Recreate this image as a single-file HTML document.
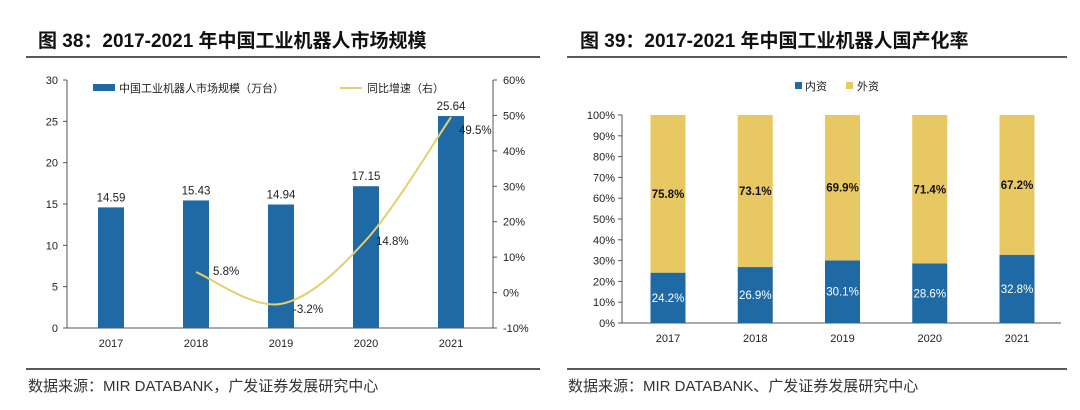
<!DOCTYPE html>
<html><head><meta charset="utf-8"><style>
body{margin:0;background:#fff;width:1080px;height:405px;overflow:hidden;font-family:"Liberation Sans","Noto Sans CJK SC",sans-serif}
svg text{font-family:"Liberation Sans","Noto Sans CJK SC",sans-serif}
</style></head><body>
<svg id="s" width="1080" height="405" xmlns="http://www.w3.org/2000/svg">
<text x="38" y="47" font-size="19" font-weight="bold" fill="#111">图 38：2017-2021 年中国工业机器人市场规模</text>
<line x1="26" y1="57" x2="540" y2="57" stroke="#222" stroke-width="1.5"/>
<line x1="26" y1="369" x2="540" y2="369" stroke="#222" stroke-width="1.5"/>
<text x="28" y="391" font-size="15" fill="#333">数据来源：MIR DATABANK，广发证券发展研究中心</text>
<text x="580" y="47" font-size="19" font-weight="bold" fill="#111">图 39：2017-2021 年中国工业机器人国产化率</text>
<line x1="567" y1="57" x2="1067" y2="57" stroke="#222" stroke-width="1.5"/>
<line x1="567" y1="369" x2="1067" y2="369" stroke="#222" stroke-width="1.5"/>
<text x="568" y="391" font-size="15" fill="#333">数据来源：MIR DATABANK、广发证券发展研究中心</text>
<g id="L"></g><g id="R"></g>
</svg>
<script>
const years=["2017","2018","2019","2020","2021"];
const marketSize=[14.59,15.43,14.94,17.15,25.64];
const growthYears=["2018","2019","2020","2021"];
const growth=[5.8,-3.2,14.8,49.5];
const leftTicks=[0,5,10,15,20,25,30];
const rightTicks=[-10,0,10,20,30,40,50,60];
const domestic=[24.2,26.9,30.1,28.6,32.8];
const foreign=[75.8,73.1,69.9,71.4,67.2];
const pctTicks=[0,10,20,30,40,50,60,70,80,90,100];
const NS="http://www.w3.org/2000/svg";
function mk(p,t,a,txt){const e=document.createElementNS(NS,t);for(const k in a)e.setAttribute(k,a[k]);if(txt!==undefined)e.textContent=txt;p.appendChild(e);return e;}
const blue="#1f6aa5",gold="#e8c862";
const L=document.getElementById('L');
const x0=67,x1=493,yT=80,yB=328;
const yL=v=>yB-(v/30)*(yB-yT);
const yRg=v=>yB-((v+10)/70)*(yB-yT);
const xc=i=>111+i*85;
let e=mk(L,'line',{x1:x0,y1:yT,x2:x0,y2:yB,stroke:'#555'});

e=mk(L,'line',{x1:x1,y1:yT,x2:x1,y2:yB,stroke:'#555'});

e=mk(L,'line',{x1:x0,y1:yB,x2:x1,y2:yB,stroke:'#555'});

leftTicks.forEach(v=>{mk(L,'line',{x1:x0-4,y1:yL(v),x2:x0,y2:yL(v),stroke:'#555'});
 e=mk(L,'text',{x:x0-9,y:yL(v)+4,'font-size':11,'text-anchor':'end',fill:'#222'},v);
 });
rightTicks.forEach(v=>{mk(L,'line',{x1:x1,y1:yRg(v),x2:x1+4,y2:yRg(v),stroke:'#555'});
 e=mk(L,'text',{x:x1+10,y:yRg(v)+4,'font-size':11,fill:'#222'},v+'%');
 });
marketSize.forEach((v,i)=>{
 e=mk(L,'rect',{x:xc(i)-13,y:yL(v),width:26,height:yB-yL(v),fill:blue});
 
 e=mk(L,'text',{x:xc(i),y:yL(v)-6,'font-size':11.5,'text-anchor':'middle',fill:'#222'},v.toFixed(2));
 
 e=mk(L,'text',{x:xc(i),y:yB+19,'font-size':11,'text-anchor':'middle',fill:'#222'},years[i]);
 });
const pts=growth.map((v,i)=>[xc(years.indexOf(growthYears[i])),yRg(v)]);
let d='M'+pts[0][0]+','+pts[0][1];
for(let i=0;i<pts.length-1;i++){const p0=pts[i-1]||pts[i],p1=pts[i],p2=pts[i+1],p3=pts[i+2]||p2;
 d+=' C'+(p1[0]+(p2[0]-p0[0])/6)+','+(p1[1]+(p2[1]-p0[1])/6)+' '+(p2[0]-(p3[0]-p1[0])/6)+','+(p2[1]-(p3[1]-p1[1])/6)+' '+p2[0]+','+p2[1];}
e=mk(L,'path',{d:d,fill:'none',stroke:'#e3cf6e','stroke-width':2});

const off=[[17,3],[12,9],[10,5],[8,17]];
growth.forEach((v,i)=>{e=mk(L,'text',{x:pts[i][0]+off[i][0],y:pts[i][1]+off[i][1],'font-size':11.5,fill:'#222'},v.toFixed(1)+'%');
 });
e=mk(L,'rect',{x:93,y:84,width:22,height:7,fill:blue});

e=mk(L,'text',{x:119,y:92,'font-size':11,fill:'#222'},'中国工业机器人市场规模（万台）');

e=mk(L,'line',{x1:340,y1:88,x2:362,y2:88,stroke:'#e3cf6e','stroke-width':2});

e=mk(L,'text',{x:367,y:92,'font-size':11,fill:'#222'},'同比增速（右）');

const R=document.getElementById('R');
const a0=622,a1=1061,rT=115,rB=323;
const yP=v=>rB-(v/100)*(rB-rT);
const xr=i=>668+i*87.25;
e=mk(R,'line',{x1:a0,y1:rT,x2:a0,y2:rB,stroke:'#555'});

e=mk(R,'line',{x1:a0,y1:rB,x2:a1,y2:rB,stroke:'#555'});

pctTicks.forEach(v=>{mk(R,'line',{x1:a0-4,y1:yP(v),x2:a0,y2:yP(v),stroke:'#555'});
 e=mk(R,'text',{x:a0-7,y:yP(v)+4,'font-size':11,'text-anchor':'end',fill:'#222'},v+'%');
 });
years.forEach((y,i)=>{
 const dv=domestic[i],fv=foreign[i];
 e=mk(R,'rect',{x:xr(i)-17.5,y:yP(dv),width:35,height:rB-yP(dv),fill:blue});
 
 e=mk(R,'rect',{x:xr(i)-17.5,y:yP(dv+fv),width:35,height:yP(dv)-yP(dv+fv),fill:gold});
 
 e=mk(R,'text',{x:xr(i),y:yP(dv/2)+4,'font-size':11.5,'text-anchor':'middle',fill:'#fff'},dv.toFixed(1)+'%');
 
 e=mk(R,'text',{x:xr(i),y:yP(dv+fv/2)+4,'font-size':11.5,'font-weight':'bold','text-anchor':'middle',fill:'#111'},fv.toFixed(1)+'%');
 
 e=mk(R,'text',{x:xr(i),y:rB+19,'font-size':11,'text-anchor':'middle',fill:'#222'},y);
 });
e=mk(R,'rect',{x:795,y:82,width:7,height:7,fill:blue});

e=mk(R,'text',{x:805,y:90,'font-size':11,fill:'#222'},'内资');

e=mk(R,'rect',{x:846,y:82,width:7,height:7,fill:gold});

e=mk(R,'text',{x:857,y:90,'font-size':11,fill:'#222'},'外资');

</script>
</body></html>
